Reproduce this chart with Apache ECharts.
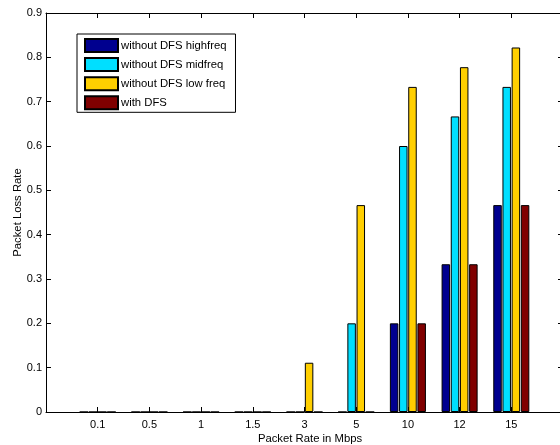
<!DOCTYPE html>
<html>
<head>
<meta charset="utf-8">
<script src="https://cdn.jsdelivr.net/npm/echarts@6/dist/echarts.min.js"></script>
<style>html,body{margin:0;padding:0;background:#fff;overflow:hidden}#c{width:566px;height:445px}</style>
</head>
<body>
<div id="c"></div>
<script>
const categories = ['0.1', '0.5', '1', '1.5', '3', '5', '10', '12', '15'];
const seriesNames = ['without DFS highfreq', 'without DFS midfreq', 'without DFS low freq', 'with DFS'];
const highFreq = [0, 0, 0, 0, 0, 0, 0.2, 0.3333, 0.4667];
const midFreq  = [0, 0, 0, 0, 0, 0.2, 0.6, 0.6667, 0.7333];
const lowFreq  = [0, 0, 0, 0, 0.1111, 0.4667, 0.7333, 0.7778, 0.8222];
const withDFS  = [0, 0, 0, 0, 0, 0, 0.2, 0.3333, 0.4667];
const yTicks = [0, 0.1, 0.2, 0.3, 0.4, 0.5, 0.6, 0.7, 0.8, 0.9];
const colors = ['#00008f', '#00dfff', '#ffcf00', '#800000'];

const allSeries = [highFreq, midFreq, lowFreq, withDFS];
const font = 'Liberation Sans, Arial, Helvetica, sans-serif';
const chart = echarts.init(document.getElementById('c'), null, {renderer: 'canvas'});

const axisCommon = {
  axisLine: {onZero: false, lineStyle: {color: '#000', width: 1}},
  axisTick: {inside: true, length: 5, lineStyle: {color: '#000'}},
  splitLine: {show: false}
};

chart.setOption({
  animation: false,
  backgroundColor: '#fff',
  grid: {left: 46, right: 3, top: 13, bottom: 33, containLabel: false, outerBoundsMode: 'none'},
  legend: {
    orient: 'vertical', left: 77, top: 34,
    itemWidth: 33, itemHeight: 13, itemGap: 4.1,
    padding: [4, 9, 2, 7],
    borderColor: '#000', borderWidth: 1, backgroundColor: '#fff',
    icon: 'rect',
    textStyle: {fontFamily: font, fontSize: 11.3, color: '#000', padding: [0, 0, 0, -2]},
    data: seriesNames
  },
  xAxis: [{
    type: 'value', min: 0, max: categories.length + 1, interval: 1,
    ...axisCommon,
    axisLabel: {
      fontFamily: font, fontSize: 11, color: '#000', margin: 7.5,
      formatter: v => categories[v - 1] !== undefined ? categories[v - 1] : ''
    },
    name: 'Packet Rate in Mbps', nameLocation: 'middle', nameGap: 21, nameMoveOverlap: false,
    nameTextStyle: {fontFamily: font, fontSize: 11.3, color: '#000', padding: [0, 0, 0, 11]}
  }, {
    type: 'value', position: 'top', min: 0, max: categories.length + 1, interval: 1,
    ...axisCommon, axisLabel: {show: false}
  }],
  yAxis: [{
    type: 'value', min: yTicks[0], max: yTicks[yTicks.length - 1], interval: 0.1,
    ...axisCommon,
    axisLabel: {fontFamily: font, fontSize: 11, color: '#000', margin: 4,
      formatter: v => String(+v.toFixed(1))},
    name: 'Packet Loss Rate', nameLocation: 'middle', nameGap: 23, nameMoveOverlap: false,
    nameTextStyle: {fontFamily: font, fontSize: 11.3, color: '#000'}
  }, {
    type: 'value', position: 'right', min: yTicks[0], max: yTicks[yTicks.length - 1], interval: 0.1,
    ...axisCommon, axisLabel: {show: false}
  }],
  series: allSeries.map((arr, si) => ({
    name: seriesNames[si],
    type: 'bar',
    xAxisIndex: 0, yAxisIndex: 0,
    barWidth: 8.5,
    barGap: '8%',
    itemStyle: {color: colors[si], borderColor: '#000', borderWidth: 1},
    data: arr.map((v, i) => [i + 1, v])
  }))
});
</script>
</body>
</html>
